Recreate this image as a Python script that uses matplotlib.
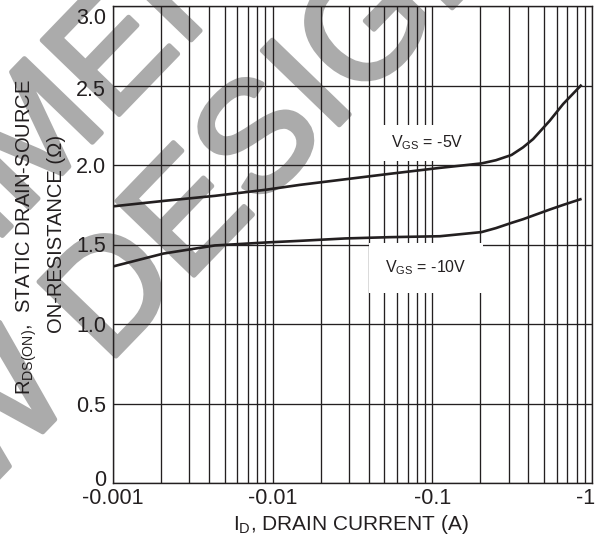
import numpy as np
import matplotlib
matplotlib.use("Agg")
import matplotlib.pyplot as plt
from matplotlib.ticker import FixedLocator, NullFormatter
import matplotlib.transforms as mtransforms
import matplotlib.patheffects as pe

plt.rcParams['font.family'] = ['Liberation Sans', 'DejaVu Sans']
plt.rcParams['mathtext.fontset'] = 'custom'
plt.rcParams['mathtext.rm'] = 'Liberation Sans'
plt.rcParams['mathtext.it'] = 'Liberation Sans:italic'
plt.rcParams['mathtext.bf'] = 'Liberation Sans:bold'

# ---------------- data ----------------
drain_current = [-0.001, -0.00207, -0.00435, -0.00917, -0.0148, -0.0284, -0.0535,
                 -0.1116, -0.2032, -0.25, -0.3132, -0.37, -0.4278, -0.5442, -0.660, -0.861]
rds_vgs_5 = [1.740, 1.774, 1.806, 1.845, 1.875, 1.91, 1.944, 1.982, 2.01, 2.03,
             2.063, 2.111, 2.163, 2.279, 2.384, 2.505]
rds_vgs_10 = [1.362, 1.443, 1.494, 1.513, 1.523, 1.538, 1.546, 1.552, 1.578, 1.603,
              1.636, 1.659, 1.682, 1.720, 1.749, 1.787]

x_major = [0.001, 0.01, 0.1, 1.0]
x_tick_labels = ['-0.001', '-0.01', '-0.1', '-1']
y_ticks = [0, 0.5, 1.0, 1.5, 2.0, 2.5, 3.0]
y_tick_labels = ['0', '0.5', '1.0', '1.5', '2.0', '2.5', '3.0']

label_5 = r'V$_{\mathrm{GS}}$ = -5V'
label_10 = r'V$_{\mathrm{GS}}$ = -10V'
xlabel = r'I$_{\mathrm{D}}$, DRAIN CURRENT (A)'
ylabel1 = r'R$_{\mathrm{DS(ON)}}$,  STATIC DRAIN-SOURCE'
ylabel2 = 'ON-RESISTANCE (\u2126)'
watermark1 = 'NOT RECOMMENDED FOR'
watermark2 = 'NEW DESIGN'

# ---------------- figure ----------------
W, H = 602, 539
fig = plt.figure(figsize=(W / 100, H / 100), dpi=100)
fig.patch.set_facecolor('white')

def fx(px):
    return px / W

def fy(py):
    return 1 - py / H

def shift(dx_px, dy_px):
    return mtransforms.ScaledTranslation(dx_px / 100, dy_px / 100, fig.dpi_scale_trans)

ax = fig.add_axes([fx(113), fy(483), fx(592) - fx(113), fy(6) - fy(483)])
ax.set_facecolor('none')

ink = '#231f20'
mag = np.abs(np.array(drain_current))
ax.plot(mag, rds_vgs_5, color=ink, lw=1.9, zorder=5, solid_capstyle='butt')
ax.plot(mag, rds_vgs_10, color=ink, lw=1.9, zorder=5, solid_capstyle='butt')

ax.set_xscale('log')
ax.set_xlim(0.001, 1.0)
ax.set_ylim(0, 3.0)

ax.xaxis.set_major_locator(FixedLocator(x_major))
ax.set_xticklabels(x_tick_labels)
minors = [m * d for d in [0.001, 0.01, 0.1] for m in range(2, 10)]
ax.xaxis.set_minor_locator(FixedLocator(minors))
ax.xaxis.set_minor_formatter(NullFormatter())
ax.set_yticks(y_ticks)
ax.set_yticklabels(y_tick_labels)

ax.set_axisbelow(True)
ax.grid(True, which='both', axis='x', color=ink, lw=0.95)
ax.grid(True, which='major', axis='y', color=ink, lw=0.95)
ax.tick_params(axis='both', which='both', length=0, labelsize=15.5, colors=ink)
ax.tick_params(axis='x', pad=3.5)
ax.tick_params(axis='y', pad=5)
for s in ax.spines.values():
    s.set_color(ink)
    s.set_linewidth(1.0)

# nudge end tick labels so they stay inside the picture
ylabs = ax.get_yticklabels()
ylabs[-1].set_transform(ylabs[-1].get_transform() + shift(0, -10))
ylabs[-2].set_transform(ylabs[-2].get_transform() + shift(0, -3))
ylabs[0].set_transform(ylabs[0].get_transform() + shift(0, 5))
xlabs = ax.get_xticklabels()
xlabs[-1].set_transform(xlabs[-1].get_transform() + shift(-6, 0))

# curve labels with white boxes breaking the grid
ax.text(fx(427), fy(143), label_5, transform=fig.transFigure,
        ha='center', va='center', fontsize=11.5, color=ink, zorder=4,
        bbox=dict(boxstyle='square,pad=0.55', fc='white', ec='none'))
ax.text(fx(426), fy(268), label_10, transform=fig.transFigure,
        ha='center', va='center', fontsize=11.5, color=ink, zorder=4,
        bbox=dict(boxstyle='square,pad=1.0', fc='white', ec='none'))

# axis labels
fig.text(fx(351), fy(530), xlabel, ha='center', va='baseline', fontsize=15, color=ink)
fig.text(fx(27), fy(237), ylabel1, ha='center', va='center', rotation=90, fontsize=14.5, color=ink)
fig.text(fx(57), fy(234), ylabel2, ha='center', va='center', rotation=90, fontsize=14.5, color=ink)

# watermark (behind the axes)
theta = 46
wm_gray = '#ababab'
wm_fx = [pe.withStroke(linewidth=3.5, foreground=wm_gray)]
fig.text(fx(173), fy(297), watermark2, ha='center', va='baseline', rotation=theta,
         rotation_mode='anchor', fontsize=112, color=wm_gray, zorder=-1, path_effects=wm_fx)
fig.text(fx(54), fy(182), watermark1, ha='center', va='baseline', rotation=theta,
         rotation_mode='anchor', fontsize=112, color=wm_gray, zorder=-1, path_effects=wm_fx)

fig.savefig('out.png', dpi=100, facecolor='white')
